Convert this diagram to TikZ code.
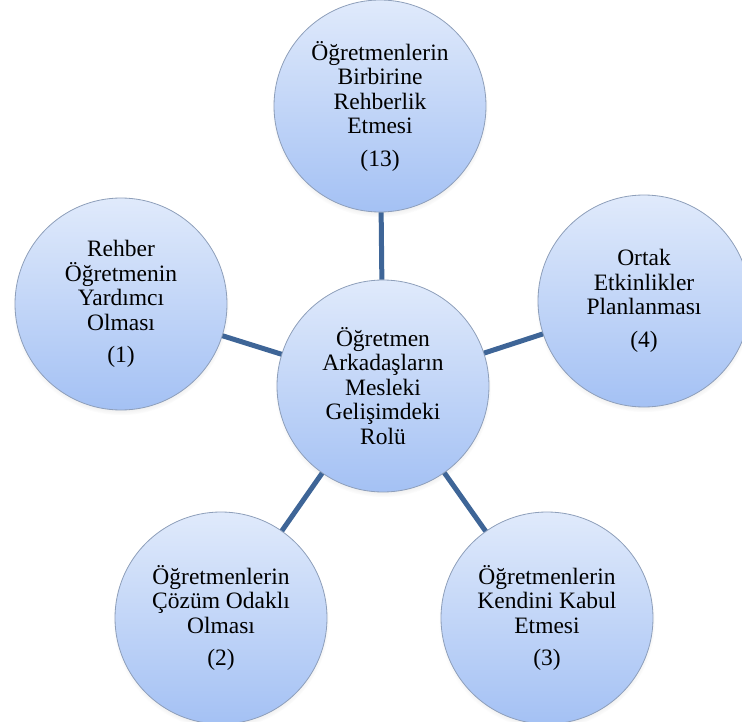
\documentclass[tikz,border=0pt]{standalone}
\usepackage{fontspec}
\setmainfont{Liberation Serif}
\usetikzlibrary{shadows}
\definecolor{bubbletop}{HTML}{E0EAFB}
\definecolor{bubblebot}{HTML}{A4C1F4}
\definecolor{bubbleedge}{HTML}{8E9FBA}
\definecolor{spoke}{HTML}{3E6597}
\tikzset{
  bubble/.style={circle, minimum size=212pt, inner sep=0pt,
    top color=bubbletop, bottom color=bubblebot,
    draw=bubbleedge, line width=0.8pt,
    align=center, text=black,
    font=\fontsize{23.5pt}{24.5pt}\selectfont,
    circular drop shadow={shadow xshift=0pt, shadow yshift=-3pt,
      shadow scale=1.02, opacity=0.35}},
  spokeline/.style={draw=spoke, line width=5pt}
}
\begin{document}
\begin{tikzpicture}[x=1pt, y=-1pt]
  \useasboundingbox (0,0) rectangle (742,722);
  % hub and its five satellites
  \node[bubble] (hub) at (383,386) {Öğretmen\\Arkadaşların\\Mesleki\\Gelişimdeki\\Rolü};
  \node[bubble] (top) at (380,106) {Öğretmenlerin\\Birbirine\\Rehberlik\\Etmesi\\[8pt](13)};
  \node[bubble] (left) at (121,304) {Rehber\\Öğretmenin\\Yardımcı\\Olması\\[8pt](1)};
  \node[bubble] (right) at (644,301) {Ortak\\Etkinlikler\\Planlanması\\[8pt](4)};
  \node[bubble] (botleft) at (221,618) {Öğretmenlerin\\Çözüm Odaklı\\Olması\\[8pt](2)};
  \node[bubble] (botright) at (547,618) {Öğretmenlerin\\Kendini Kabul\\Etmesi\\[8pt](3)};
  % spokes from the hub to each satellite
  \foreach \n in {top,left,right,botleft,botright}
    \draw[spokeline] (hub) -- (\n);
\end{tikzpicture}
\end{document}
